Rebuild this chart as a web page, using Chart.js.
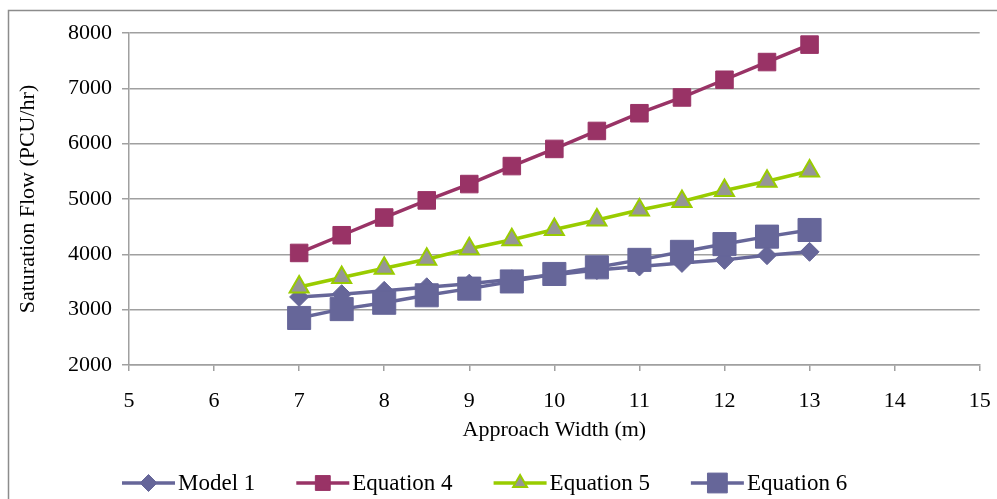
<!DOCTYPE html>
<html>
<head>
<meta charset="utf-8">
<script src="https://cdn.jsdelivr.net/npm/chart.js@4/dist/chart.umd.min.js"></script>
<style>
  html, body { margin: 0; padding: 0; background: #fff; }
  #wrap { width: 997px; height: 499px; }
</style>
</head>
<body>
<div id="wrap"><canvas id="chart" width="997" height="499"></canvas></div>
<script>
// Approach width (m) and saturation flow (PCU/hr) per model
const widths    = [7, 7.5, 8, 8.5, 9, 9.5, 10, 10.5, 11, 11.5, 12, 12.5, 13];
const model1    = [3230, 3280, 3340, 3405, 3470, 3550, 3630, 3715, 3780, 3845, 3900, 3985, 4045];
const equation4 = [4025, 4345, 4665, 4975, 5270, 5595, 5905, 6230, 6550, 6835, 7155, 7475, 7790];
const equation5 = [3410, 3580, 3750, 3910, 4100, 4265, 4450, 4620, 4800, 4955, 5155, 5320, 5505];
const equation6 = [2850, 3010, 3125, 3260, 3380, 3510, 3645, 3765, 3900, 4045, 4185, 4320, 4440];
const xTicks    = [5, 6, 7, 8, 9, 10, 11, 12, 13, 14, 15];
const yTicks    = [2000, 3000, 4000, 5000, 6000, 7000, 8000];

const FONT = '"Liberation Serif", "Times New Roman", serif';
const GRID = "#a0a0a0";
const BLUE = "#666699";
const WINE = "#993366";
const LIME = "#99cc00";
const GREY = "#969696";

const pts = (vals) => vals.map((v, i) => ({ x: widths[i], y: v }));

const series = [
  { label: "Model 1",    data: model1,    color: BLUE, fill: BLUE, style: "rectRot",  r: 9.5,  lr: 8.5,  bw: 1 },
  { label: "Equation 4", data: equation4, color: WINE, fill: WINE, style: "rect",     r: 12.4, lr: 10.5, bw: 1 },
  { label: "Equation 5", data: equation5, color: LIME, fill: GREY, style: "triangle", r: 11,   lr: 8,    bw: 2 },
  { label: "Equation 6", data: equation6, color: BLUE, fill: BLUE, style: "rect",     r: 16.3, lr: 14,   bw: 1 },
];

/* ── outer frame ── */
const framePlugin = {
  id: "frame",
  beforeDraw(chart) {
    const ctx = chart.ctx;
    ctx.save();
    ctx.fillStyle = "#fff";
    ctx.fillRect(0, 0, chart.width, chart.height);
    ctx.strokeStyle = "#8c8c8c";
    ctx.lineWidth = 1.5;
    ctx.strokeRect(8.5, 10.5, chart.width + 20, chart.height + 20);
    ctx.restore();
  },
};

/* ── legend: line + marker + label ── */
const legendPlugin = {
  id: "lineLegend",
  afterDraw(chart) {
    const ctx = chart.ctx;
    const y = 483;
    let x = 122;
    ctx.save();
    ctx.font = "23px " + FONT;
    series.forEach((s) => {
      ctx.strokeStyle = s.color;
      ctx.lineWidth = 3.5;
      ctx.beginPath();
      ctx.moveTo(x, y);
      ctx.lineTo(x + 53, y);
      ctx.stroke();
      ctx.fillStyle = s.fill;
      ctx.lineWidth = s.bw;
      Chart.helpers.drawPoint(ctx, { pointStyle: s.style, radius: s.lr, rotation: 0, borderWidth: s.bw }, x + 26.5, y);
      ctx.fillStyle = "#000";
      ctx.textBaseline = "middle";
      ctx.textAlign = "left";
      ctx.fillText(s.label, x + 56, y + 1);
      x += 56 + ctx.measureText(s.label).width + 41;
    });
    ctx.restore();
  },
};

new Chart(document.getElementById("chart"), {
  type: "line",
  data: {
    datasets: series.map((s, i) => ({
      label: s.label,
      data: pts(s.data),
      borderColor: s.color,
      borderWidth: 3.5,
      backgroundColor: s.fill,
      pointStyle: s.style,
      pointRadius: s.r,
      pointHoverRadius: s.r,
      pointBackgroundColor: s.fill,
      pointBorderColor: s.color,
      pointBorderWidth: s.bw,
      tension: 0,
      order: series.length - i,
    })),
  },
  options: {
    responsive: false,
    animation: false,
    layout: { padding: { left: 10, right: 2, top: 33, bottom: 55 } },
    plugins: {
      legend: { display: false },
      tooltip: { enabled: false },
    },
    scales: {
      x: {
        type: "linear",
        min: xTicks[0],
        max: xTicks[xTicks.length - 1],
        afterFit: (s) => { s.height = 79; s.paddingLeft = 0; s.paddingRight = 0; },
        afterBuildTicks: (s) => { s.ticks = xTicks.map((v) => ({ value: v })); },
        grid: { drawOnChartArea: false, color: GRID, lineWidth: 1.5, tickLength: 6 },
        border: { color: GRID, width: 1.5 },
        ticks: { color: "#000", font: { family: FONT, size: 22 }, padding: 17, callback: (v) => String(v) },
        title: { display: true, text: "Approach Width (m)", color: "#000", font: { family: FONT, size: 22 }, padding: { top: 0, bottom: 1 } },
      },
      y: {
        min: yTicks[0],
        max: yTicks[yTicks.length - 1],
        afterFit: (s) => { s.width = 119; s.paddingTop = 0; s.paddingBottom = 0; },
        afterBuildTicks: (s) => { s.ticks = yTicks.map((v) => ({ value: v })); },
        grid: { color: GRID, lineWidth: 1.5, tickLength: 7 },
        border: { color: GRID, width: 1.5 },
        ticks: { color: "#000", font: { family: FONT, size: 22 }, padding: 10, callback: (v) => String(v) },
        title: { display: true, text: "Saturation Flow (PCU/hr)", color: "#000", font: { family: FONT, size: 22 }, padding: { top: 5, bottom: 0 } },
      },
    },
  },
  plugins: [framePlugin, legendPlugin],
});
</script>
</body>
</html>
